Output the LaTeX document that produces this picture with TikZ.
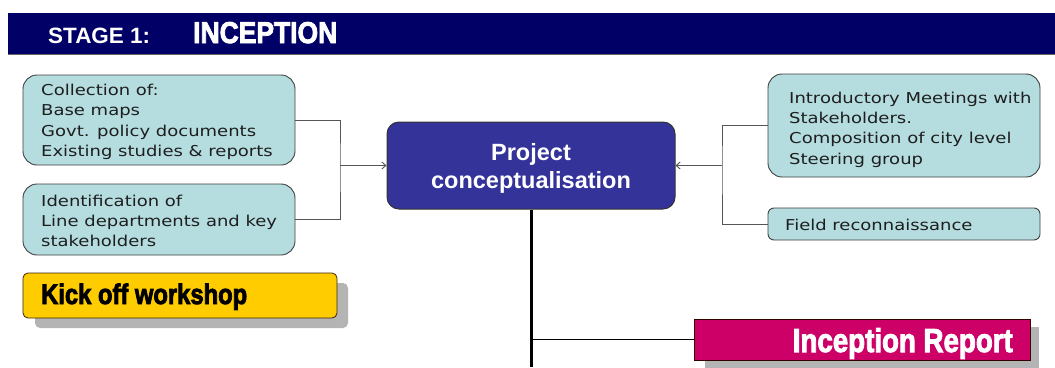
\documentclass[tikz,border=0pt]{standalone}
\usepackage{fontspec}
\usepackage{graphicx}
\usetikzlibrary{arrows.meta,calc}
\newfontfamily\boxfont[FakeStretch=1.2]{DejaVu Sans}
\newfontfamily\headfont{Liberation Sans}
\newfontfamily\condfont[BoldFeatures={FakeBold=3}]{Liberation Sans}
\definecolor{navy}{HTML}{000066}
\definecolor{lightblue}{HTML}{B5DDE0}
\definecolor{centralblue}{HTML}{333399}
\definecolor{kickyellow}{HTML}{FFCC00}
\definecolor{reportpink}{HTML}{CC0066}
\definecolor{shadowgray}{HTML}{B4B4B4}
\definecolor{linegray}{HTML}{555555}
\definecolor{boxtext}{HTML}{1E1E1E}
\tikzset{
  infobox/.style={draw=black!75, line width=0.9pt, fill=lightblue, rounded corners=14pt, inner sep=0pt},
  infotext/.style={anchor=west, align=left, inner sep=0pt, text=boxtext, font=\boxfont\fontsize{15}{20.3}\selectfont},
  conn/.style={draw=linegray, line width=0.9pt},
  tip/.style={-{Straight Barb[length=4pt,width=7pt]}},
  shadowbox/.style={fill=shadowgray, draw=none, inner sep=0pt},
}
\begin{document}
\begin{tikzpicture}[x=1pt,y=-1pt]
\useasboundingbox (0,0) rectangle (1055,367);
\fill[white] (0,0) rectangle (1055,367);

% header
\node[fill=navy, inner sep=0pt, minimum width=1047pt, minimum height=41pt, anchor=north west] (header) at (8,13) {};
\draw[black!60, line width=1pt] (header.south west) -- (header.south east);
\node[anchor=base west, inner sep=0pt, text=white] (stage) at (48,43) {\resizebox{102pt}{15.5pt}{\headfont\bfseries STAGE 1:}};
\node[anchor=base west, inner sep=0pt, text=white] (inc) at (193,43) {\resizebox{144pt}{21pt}{\condfont\bfseries INCEPTION}};

% left boxes
\node[infobox, minimum width=272pt, minimum height=90pt] (b1) at (159,120) {};
\node[infotext] (t1) at (41,122) {Collection of:\\Base maps\\Govt. policy documents\\Existing studies \& reports};
\node[infobox, minimum width=272pt, minimum height=71pt] (b2) at (159,219.5) {};
\node[infotext] (t2) at (41,221) {Identification of\\Line departments and key\\stakeholders};

% right boxes
\node[infobox, minimum width=272pt, minimum height=103pt] (r1) at (904,125.5) {};
\node[infotext] (t3) at (789,129.5) {Introductory Meetings with\\Stakeholders.\\Composition of city level\\Steering group};
\node[infobox, rounded corners=6pt, minimum width=272pt, minimum height=32pt] (r2) at (904,224) {};
\node[infotext] (t4) at (785,225) {Field reconnaissance};

% central box
\node[draw=black!80, line width=1pt, fill=centralblue, rounded corners=12pt, minimum width=288pt, minimum height=87pt, inner sep=0pt] (c) at (531,165.5) {};
\node[align=center, inner sep=0pt, text=white, font=\headfont\bfseries\fontsize{23.5}{28}\selectfont] (ctext) at (531,168.5) {Project\\conceptualisation};

% kick off workshop
\node[shadowbox, rounded corners=5pt, minimum width=313pt, minimum height=45pt] (ks) at (191.5,305.5) {};
\node[draw=black!70!brown, line width=0.8pt, fill=kickyellow, rounded corners=5pt, minimum width=314pt, minimum height=45pt, inner sep=0pt] (k) at (180,295.5) {};
\node[anchor=base west, inner sep=0pt] (kt) at (41,304) {\resizebox{206pt}{20.5pt}{\condfont\bfseries Kick off workshop}};

% connectors
\coordinate (jl) at (340,165.5);
\coordinate (jr) at (722,165.5);
\coordinate (bot) at (531,367);
\draw[conn] (b1.east) -| (jl) |- (b2.east);
\draw[conn, tip] (jl) -- (c.west);
\draw[conn] (r1.west) -| (jr) |- (r2.west);
\draw[conn, tip] (jr) -- (c.east);

% inception report
\node[shadowbox, minimum width=334pt, minimum height=41pt] (is) at (872,347) {};
\draw[black, line width=3pt] (c.south) -- (bot);
\node[draw=black!80!red, line width=0.9pt, fill=reportpink, minimum width=336pt, minimum height=41pt, inner sep=0pt] (ir) at (862,339.5) {};
\draw[black, line width=1pt] (c.south |- ir.west) -- (ir.west);
\node[anchor=base east, inner sep=0pt, text=white] (irt) at (1013,352) {\resizebox{220pt}{24pt}{\condfont\bfseries Inception Report}};
\end{tikzpicture}
\end{document}
